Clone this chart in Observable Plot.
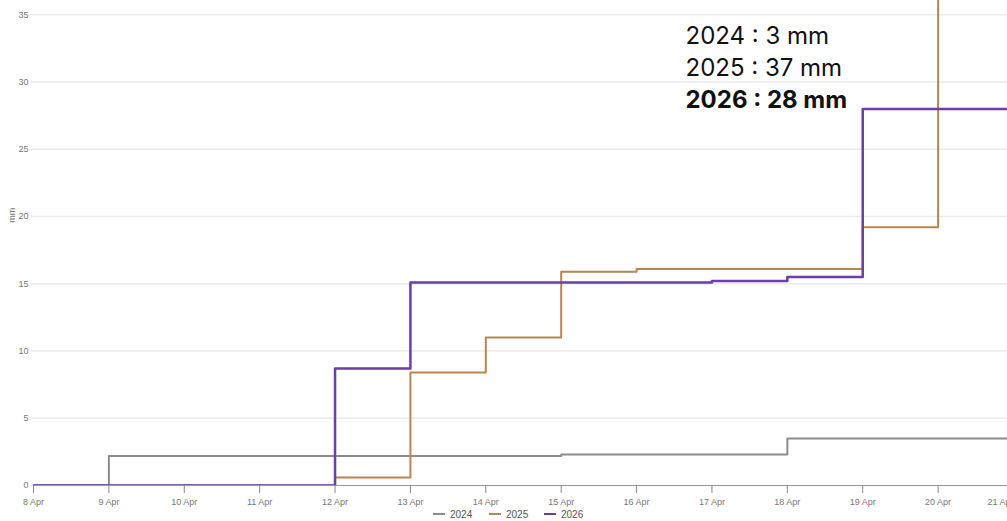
<!DOCTYPE html>
<html><head><meta charset="utf-8">
<script src="https://cdn.jsdelivr.net/npm/d3@7"></script>
<script src="https://cdn.jsdelivr.net/npm/@observablehq/plot@0.6"></script>
<style>
html,body{margin:0;padding:0;background:#fff;overflow:hidden;width:1007px;height:521px}
#chart{position:relative;width:1053px;height:508px}
#legend{position:relative;height:13px;width:1007px;font:10px "Liberation Sans",Arial,sans-serif;color:#555}
#legend span.item{position:absolute;top:0;line-height:13px;white-space:nowrap}
#legend span.sw{display:inline-block;width:12px;height:2px;vertical-align:middle;margin-right:5px;margin-top:-2px}
</style></head><body>
<div id="chart"></div>
<div id="legend"></div>
<script>
// Days of April
const days = [8, 9, 10, 11, 12, 13, 14, 15, 16, 17, 18, 19, 20, 21];
// Cumulative rainfall (mm) per year
const rain2024 = [0, 2.2, 2.2, 2.2, 2.2, 2.2, 2.2, 2.3, 2.3, 2.3, 3.5, 3.5, 3.5, 3.5];
const rain2025 = [0, 0, 0, 0, 0.6, 8.4, 11.0, 15.9, 16.1, 16.1, 16.1, 19.2, 37, 37];
const rain2026 = [0, 0, 0, 0, 8.7, 15.1, 15.1, 15.1, 15.1, 15.2, 15.5, 28, 28, 28];
const years = ["2024", "2025", "2026"];
const colors = ["#8c8c8c", "#b8864e", "#6b3fa3"];
const widths = [2, 2, 2.5];
const yTicks = [0, 5, 10, 15, 20, 25, 30, 35];
const annotation = ["2024 : 3 mm", "2025 : 37 mm"];
const annotationBold = "2026 : 28 mm";

const series = [rain2024, rain2025, rain2026];
const rows = [];
series.forEach((vals, i) => {
  vals.forEach((v, j) => rows.push({year: years[i], date: new Date(Date.UTC(2026, 3, days[j])), mm: v}));
});
const fmt = d3.utcFormat("%-d %b");
const axisFont = '"Liberation Sans", Arial, sans-serif';
const tickDates = days.map(d => new Date(Date.UTC(2026, 3, d)));
const lastDate = tickDates[tickDates.length - 1];

const lineMarks = years.map((yr, i) =>
  Plot.line(rows.filter(r => r.year === yr), {
    x: "date", y: "mm", curve: "step-after", stroke: colors[i], strokeWidth: widths[i], clip: "frame"
  })
);

const chart = Plot.plot({
  width: 1053,
  height: 508,
  marginLeft: 33,
  marginRight: 40,
  marginTop: 0,
  marginBottom: 23,
  style: {maxWidth: "none", fontFamily: axisFont, overflow: "visible"},
  x: {type: "utc", domain: [tickDates[0], lastDate]},
  y: {domain: [0, 36.06]},
  marks: [
    Plot.ruleY(yTicks, {stroke: "#ebebeb", strokeWidth: 1.5, insetLeft: -3}),
    Plot.axisY({ticks: yTicks, tickSize: 0, tickPadding: 5, fontSize: 9, color: "#777", label: null}),
    Plot.text(["mm"], {frameAnchor: "left", y: () => 20.1, dx: -21, rotate: -90, fontSize: 9, fill: "#777", textAnchor: "middle"}),
    Plot.ruleY([0], {stroke: "#999", strokeWidth: 1}),
    Plot.axisX({ticks: tickDates, tickFormat: d => (+d === +lastDate ? "" : fmt(d)), tickSize: 8, tickPadding: 5, fontSize: 9, color: "#777", label: null, stroke: "#888"}),
    Plot.axisX({ticks: [lastDate], tickFormat: fmt, tickSize: 0, tickPadding: 13, dx: -13, fontSize: 9, color: "#777", label: null}),
    ...lineMarks,
    Plot.text([annotation.join("\n")], {frameAnchor: "top-left", dx: 652, dy: 21, lineHeight: 1.333, fontSize: 24, fontFamily: "Inter", fill: "#111", textAnchor: "start", lineAnchor: "top"}),
    Plot.text([annotationBold], {frameAnchor: "top-left", dx: 652, dy: 90, fontSize: 24, fontWeight: 700, fontFamily: "Inter", fill: "#111", textAnchor: "start", lineAnchor: "top"})
  ]
});
document.getElementById("chart").appendChild(chart);

const legend = document.getElementById("legend");
const lefts = [433, 489, 544];
years.forEach((yr, i) => {
  const s = document.createElement("span");
  s.className = "item";
  s.style.left = lefts[i] + "px";
  s.innerHTML = `<span class="sw" style="background:${colors[i]}"></span>${yr}`;
  legend.appendChild(s);
});
</script>
</body></html>
